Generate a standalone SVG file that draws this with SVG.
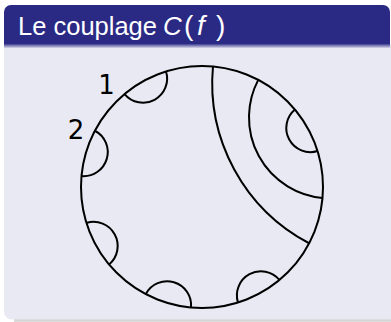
<svg xmlns="http://www.w3.org/2000/svg" width="391" height="322" viewBox="0 0 391 322">
  <defs>
    <linearGradient id="hdrShade" x1="0" y1="0" x2="0" y2="1">
      <stop offset="0" stop-color="#2A2A85"/>
      <stop offset="1" stop-color="#E9E9F3"/>
    </linearGradient>
    <linearGradient id="shadow" x1="0" y1="0" x2="0" y2="1">
      <stop offset="0" stop-color="#9A9A9A"/>
      <stop offset="1" stop-color="#E0E0E0"/>
    </linearGradient>
  </defs>
  <style>
    .ln { fill: none; stroke: #000; stroke-width: 2; }
    .lbl { font-family: "DejaVu Sans", sans-serif; font-size: 26px; fill: #000; }
    .ttl { font-family: "Liberation Sans", Arial, sans-serif; font-size: 26px; fill: #FFFFFF; }
  </style>

  <g id="block">
    <rect x="14" y="312" width="377" height="10" fill="url(#shadow)"/>
    <path d="M4,44 H391 V319.5 H12 A8,8 0 0 1 4,311.5 Z" fill="#E9E9F3"/>
    <path d="M4,44 V12 A7,7 0 0 1 11,5 H383 A7,7 0 0 1 390,12 V44 Z" fill="#2A2A85"/>
    <rect x="4" y="43.5" width="386" height="5" fill="url(#hdrShade)"/>
    <text class="ttl" x="18" y="34.5" textLength="139" lengthAdjust="spacingAndGlyphs">Le couplage</text>
    <text class="ttl" y="34.5"><tspan x="163" font-style="italic">C</tspan><tspan x="184" font-size="28">(</tspan><tspan x="197" font-style="italic" font-size="28">f</tspan><tspan x="216" font-size="28">)</tspan></text>
  </g>

  <g id="disk">
    <circle class="ln" cx="202" cy="187" r="121"/>
  </g>

  <g id="connectors">
    <path class="ln" d="M166.02,71.47 A24.07,24.07 0 0 1 124.55,94.04"/>
    <path class="ln" d="M94.87,130.75 A24.07,24.07 0 0 1 81.50,176.03"/>
    <path class="ln" d="M86.47,222.98 A24.07,24.07 0 0 1 109.04,264.45"/>
    <path class="ln" d="M145.75,294.13 A24.07,24.07 0 0 1 191.03,307.50"/>
    <path class="ln" d="M237.98,302.53 A24.07,24.07 0 0 1 279.45,279.96"/>
    <path class="ln" d="M317.53,151.02 A24.07,24.07 0 0 1 294.96,109.55"/>
    <path class="ln" d="M322.50,197.97 A80.85,80.85 0 0 1 258.25,79.87"/>
    <path class="ln" d="M309.13,243.25 A181.09,181.09 0 0 1 212.97,66.50"/>
  </g>

  <g id="labels">
    <text class="lbl" x="106.5" y="94" text-anchor="middle">1</text>
    <text class="lbl" x="76" y="138.5" text-anchor="middle">2</text>
  </g>
</svg>
